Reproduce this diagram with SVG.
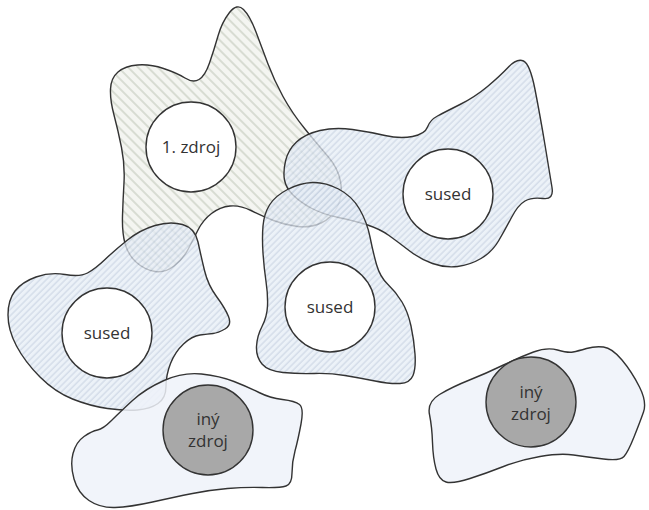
<svg xmlns="http://www.w3.org/2000/svg" width="649" height="510" viewBox="0 0 649 510">
<defs>
<pattern id="hatchA" patternUnits="userSpaceOnUse" width="7" height="7" patternTransform="rotate(-45)">
<rect width="7" height="7" fill="#f1f3ee"/>
<line x1="1" y1="0" x2="1" y2="7" stroke="#c8cec1" stroke-width="1.7"/>
</pattern>
<pattern id="hatchB" patternUnits="userSpaceOnUse" width="4.5" height="4.5" patternTransform="rotate(45)">
<rect width="4.5" height="4.5" fill="#e6edf6"/>
<line x1="1" y1="0" x2="1" y2="4.5" stroke="#bac8db" stroke-width="1.1"/>
</pattern>
</defs>
<style>
.blob{stroke:#333;stroke-width:1.4;stroke-linejoin:round}
.ba{fill:url(#hatchA);fill-opacity:0.8}
.bb{fill:url(#hatchB);fill-opacity:0.75}
.bc{fill:#eef2f9;fill-opacity:0.85}
.node{fill:#fff;stroke:#333;stroke-width:1.4}
.other{fill:#a8a8a8;stroke:#333;stroke-width:1.4}
text{font-family:"Open Sans","Liberation Sans",sans-serif;font-size:17px;fill:#333;text-anchor:middle}
</style>
<g id="connectors"/>
<g id="zdroj1">
<path class="blob ba" d="M229.5,12.5 Q237,3 243.5,9.5 Q250,16 256,32 Q262,48 268,64 Q274,80 283,96.5 Q292,113 305,129 Q318,145 328,156.5 Q338,168 340.5,181.5 Q343,195 337.5,206.5 Q332,218 321,223 Q310,228 297.5,226.5 Q285,225 273.5,220.5 Q262,216 251,210.5 Q240,205 230,206 Q220,207 211.5,213.5 Q203,220 198,230 Q193,240 188,249.5 Q183,259 174,266 Q165,273 155,271.5 Q145,270 136.5,262.5 Q128,255 125,243.5 Q122,232 122.5,216 Q123,200 124,182.5 Q125,165 121.5,147.5 Q118,130 114,115 Q110,100 110.5,89 Q111,78 118,72 Q125,66 137.5,65 Q150,64 163.5,68.5 Q177,73 185,78 Q193,83 199,79.5 Q205,76 209.5,63 Q214,50 218,36 Q222,22 229.5,12.5 Z"/>
<circle class="node" cx="191" cy="147" r="45"/>
<text x="191" y="153">1. zdroj</text>
</g>
<g id="sused_right">
<path class="blob bb" d="M284.5,180 Q283,172 285.5,161 Q288,150 296.5,142 Q305,134 320,130.5 Q335,127 352.5,129.5 Q370,132 385,135.5 Q400,139 412.5,136.5 Q425,134 427.5,127 Q430,120 437.5,116 Q445,112 460,104.5 Q475,97 487.5,86.5 Q500,76 508.5,67 Q517,58 523.5,61 Q530,64 535,89.5 Q540,115 545,145 Q550,175 552,187.5 Q554,200 543,198.5 Q532,197 525,201 Q518,205 511.5,217.5 Q505,230 498.5,241 Q492,252 481,258.5 Q470,265 457.5,266.5 Q445,268 432.5,263.5 Q420,259 409,250.5 Q398,242 389,235.5 Q380,229 367.5,225 Q355,221 338.5,217.5 Q322,214 311,208 Q300,202 293,195 Q286,188 284.5,180 Z"/>
<circle class="node" cx="448" cy="194" r="45"/>
<text x="448" y="200">sused</text>
</g>
<g id="sused_middle">
<path class="blob bb" d="M287.5,189.5 Q300,183 312.5,182.5 Q325,182 338.5,189 Q352,196 359.5,209 Q367,222 370,237 Q373,252 376.5,264.5 Q380,277 388,284.5 Q396,292 402,302 Q408,312 411,326 Q414,340 415,354 Q416,368 413,375.5 Q410,383 400,383.5 Q390,384 375,381 Q360,378 345,375.5 Q330,373 314,373.5 Q298,374 283,372.5 Q268,371 262,364 Q256,357 256.5,346.5 Q257,336 262,326.5 Q267,317 267.5,306 Q268,295 266,281.5 Q264,268 263,253 Q262,238 263,226 Q264,214 269.5,205 Q275,196 287.5,189.5 Z"/>
<circle class="node" cx="330" cy="307" r="45"/>
<text x="330" y="313">sused</text>
</g>
<g id="sused_left">
<path class="blob bb" d="M65,274.5 Q80,277 87.5,273 Q95,269 105,259.5 Q115,250 127.5,240 Q140,230 155,225.5 Q170,221 182.5,224.5 Q195,228 198,242 Q201,256 204.5,270.5 Q208,285 216.5,296.5 Q225,308 228.5,316.5 Q232,325 225,329 Q218,333 213,333.5 Q208,334 200,335 Q192,336 183.5,344 Q175,352 170.5,363.5 Q166,375 166,386.5 Q166,398 158,403.5 Q150,409 137.5,410 Q125,411 107.5,408.5 Q90,406 72.5,399 Q55,392 40,377 Q25,362 16.5,346 Q8,330 8,315 Q8,300 15,291 Q22,282 36,277 Q50,272 65,274.5 Z"/>
<circle class="node" cx="107" cy="333" r="45"/>
<text x="107" y="339">sused</text>
</g>
<g id="iny_zdroj_left">
<path class="blob bc" d="M164,380.5 Q183,372 201.5,374 Q220,376 234,381.5 Q248,387 259,392.5 Q270,398 282.5,399.5 Q295,401 299.5,404.5 Q304,408 301,424 Q298,440 295,451 Q292,462 292,473 Q292,484 286,486 Q280,488 262.5,487.5 Q245,487 227.5,488.5 Q210,490 192.5,493.5 Q175,497 152.5,502 Q130,507 115,507.5 Q100,508 89,500.5 Q78,493 74,479 Q70,465 73,453.5 Q76,442 84,436.5 Q92,431 97.5,430 Q103,429 111.5,420.5 Q120,412 132.5,400.5 Q145,389 164,380.5 Z"/>
<circle class="other" cx="208" cy="430" r="45"/>
<text x="208" y="425">iný</text>
<text x="208" y="447">zdroj</text>
</g>
<g id="iny_zdroj_right">
<path class="blob bc" d="M429.5,414.5 Q427,402 439.5,394.5 Q452,387 469.5,380 Q487,373 503.5,365 Q520,357 533.5,352 Q547,347 557.5,350 Q568,353 573,352 Q578,351 586.5,348.5 Q595,346 603.5,347 Q612,348 622,360 Q632,372 639.5,387 Q647,402 643.5,412 Q640,422 634,437 Q628,452 624,456.5 Q620,461 603.5,459 Q587,457 573.5,455 Q560,453 540,456.5 Q520,460 503.5,466.5 Q487,473 470,478.5 Q453,484 446,482 Q439,480 436,469 Q433,458 432.5,442.5 Q432,427 429.5,414.5 Z"/>
<circle class="other" cx="531" cy="402" r="45"/>
<text x="531" y="398">iný</text>
<text x="531" y="420">zdroj</text>
</g>
</svg>
